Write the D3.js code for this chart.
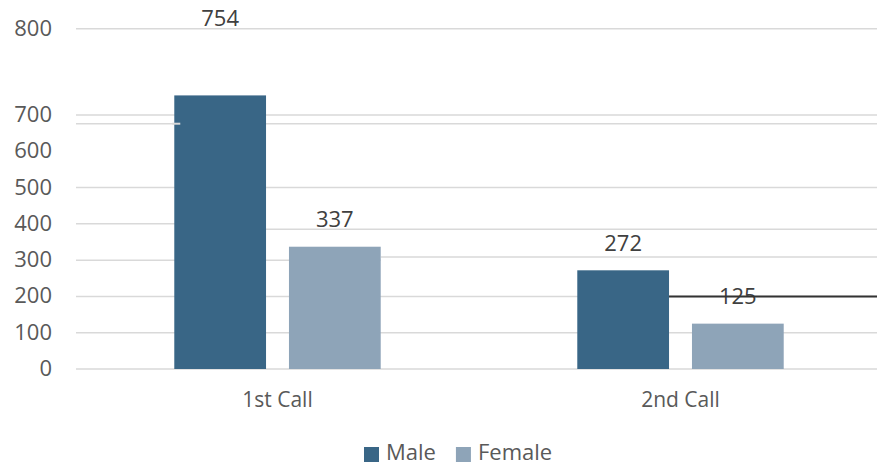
<!DOCTYPE html>
<html>
<head>
<meta charset="utf-8">
<script src="https://cdn.jsdelivr.net/npm/d3@7"></script>
<style>
  html, body { margin: 0; padding: 0; background: #fff; }
</style>
</head>
<body>
<div id="chart"></div>
<script>
// Data
var categories = ["1st Call", "2nd Call"];
var series = ["Male", "Female"];
var maleValues = [754, 272];
var femaleValues = [337, 125];
var tickValues = [0, 100, 200, 300, 400, 500, 600, 700, 800];
var gridValues = [0, 100, 200, 500, 676, 700, 800];
// gridlines that jump to another level after a bar of the first category
var gridShiftFrom = [400, 300];
var gridShiftTo = [385, 309];
var gridShiftAfter = ["Male", "Female"];
var refLineValue = 200;

var colours = { Male: "#396686", Female: "#8ea4b8" };
var font = "'Open Sans', sans-serif";

var width = 877, height = 466;
var margin = { top: 0, right: 0, bottom: 97, left: 76 };
var lift = 50; // values above the axis break are drawn higher

var svg = d3.select("#chart").append("svg")
  .attr("width", width).attr("height", height);

var x0 = d3.scaleBand().domain(categories)
  .range([margin.left, width + 5]).paddingInner(0).paddingOuter(0);
var x1 = d3.scaleBand().domain(series)
  .range([0, x0.bandwidth()]).paddingInner(0.2).paddingOuter(0.857);
var y = d3.scaleLinear().domain([0, 700]).range([369, 115]);

function yPos(v) { return v > 750 ? y(v) - lift : y(v); }

var rows = categories.map(function (c, i) {
  return { cat: c, Male: maleValues[i], Female: femaleValues[i] };
});

// Gridlines
var grid = svg.append("g");
grid.selectAll("line.full")
  .data(gridValues).join("line")
    .attr("class", "full")
    .attr("x1", margin.left).attr("x2", width - margin.right)
    .attr("y1", yPos).attr("y2", yPos)
    .attr("stroke", "#d9d9d9").attr("stroke-width", 1.5);

gridShiftFrom.forEach(function (v, i) {
  var xs = x0(categories[0]) + x1(gridShiftAfter[i]) + x1.bandwidth();
  grid.append("line")
    .attr("x1", margin.left).attr("x2", xs)
    .attr("y1", y(v)).attr("y2", y(v))
    .attr("stroke", "#d9d9d9").attr("stroke-width", 1.5);
  grid.append("line")
    .attr("x1", xs).attr("x2", width - margin.right)
    .attr("y1", y(gridShiftTo[i])).attr("y2", y(gridShiftTo[i]))
    .attr("stroke", "#d9d9d9").attr("stroke-width", 1.5);
});

// Y axis labels
var yAxis = d3.axisLeft(y).tickValues(tickValues).tickSize(0).tickPadding(24);
var ya = svg.append("g")
  .attr("transform", "translate(" + margin.left + ",0)")
  .call(yAxis);
ya.select(".domain").remove();
ya.selectAll(".tick").attr("transform", function (d) { return "translate(0," + yPos(d) + ")"; });
ya.selectAll(".tick text")
  .attr("font-family", font).attr("font-size", 22).attr("fill", "#595959");

// Bars
var groups = svg.selectAll("g.cat")
  .data(rows).join("g")
    .attr("class", "cat")
    .attr("transform", function (d) { return "translate(" + x0(d.cat) + ",0)"; });

groups.selectAll("rect")
  .data(function (d) { return series.map(function (s) { return { s: s, v: d[s] }; }); })
  .join("rect")
    .attr("x", function (d) { return x1(d.s); })
    .attr("width", x1.bandwidth())
    .attr("y", function (d) { return y(d.v); })
    .attr("height", function (d) { return y(0) - y(d.v); })
    .attr("fill", function (d) { return colours[d.s]; });

// stray bit of gridline over the first bar
var mx = x0(categories[0]) + x1("Male");
svg.append("line")
  .attr("x1", mx - 2).attr("x2", mx + 6)
  .attr("y1", y(676)).attr("y2", y(676))
  .attr("stroke", "#d9d9d9").attr("stroke-width", 2);

// Reference line from the 2nd Call male bar
svg.append("line")
  .attr("x1", x0(categories[1]) + x1("Male") + x1.bandwidth())
  .attr("x2", width - margin.right)
  .attr("y1", y(refLineValue)).attr("y2", y(refLineValue))
  .attr("stroke", "#333").attr("stroke-width", 2);

// Value labels
groups.selectAll("text.val")
  .data(function (d) { return series.map(function (s) { return { s: s, v: d[s] }; }); })
  .join("text")
    .attr("class", "val")
    .attr("x", function (d) { return x1(d.s) + x1.bandwidth() / 2; })
    .attr("y", function (d) { return yPos(d.v) - 27; })
    .attr("dy", "0.35em")
    .attr("text-anchor", "middle")
    .attr("font-family", font).attr("font-size", 22).attr("fill", "#404040")
    .text(function (d) { return d.v; });

// Category labels
svg.selectAll("text.cat")
  .data(categories).join("text")
    .attr("class", "cat")
    .attr("x", function (d) { return x0(d) + x0.bandwidth() / 2; })
    .attr("y", 400).attr("dy", "0.35em")
    .attr("text-anchor", "middle")
    .attr("font-family", font).attr("font-size", 21).attr("fill", "#595959")
    .text(function (d) { return d; });

// Legend
var legend = svg.append("g");
var lx = 364;
series.forEach(function (s) {
  var item = legend.append("g").attr("transform", "translate(" + lx + ",0)");
  item.append("rect").attr("x", 0).attr("y", 447).attr("width", 15).attr("height", 15)
    .attr("fill", colours[s]);
  var t = item.append("text").attr("x", 22).attr("y", 460)
    .attr("font-family", font).attr("font-size", 22).attr("fill", "#595959")
    .text(s);
  lx += 22 + t.node().getComputedTextLength() + 20;
});
</script>
</body>
</html>
